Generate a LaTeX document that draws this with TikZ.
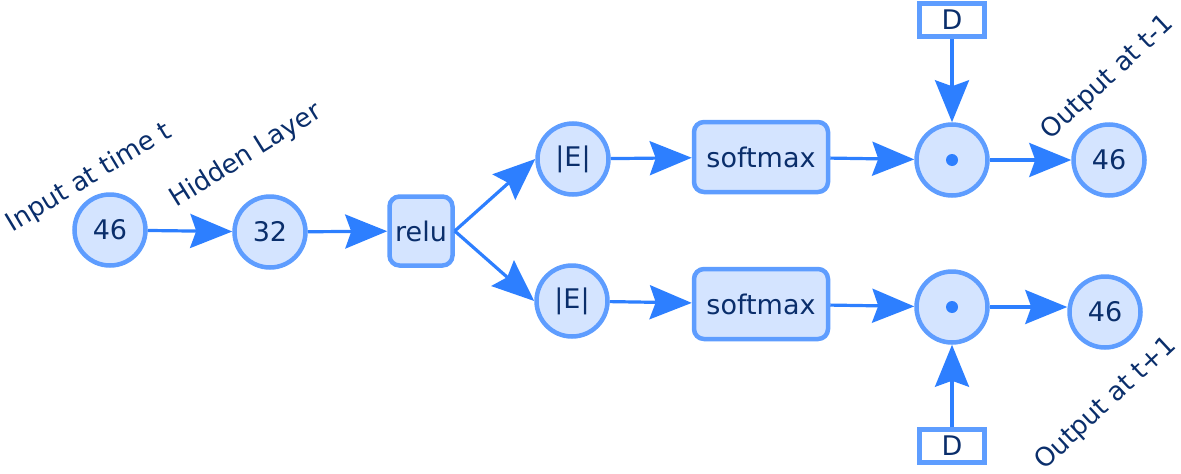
\documentclass[tikz,border=0pt]{standalone}
\usepackage{fontspec}
\setmainfont{DejaVu Sans}
\usetikzlibrary{arrows.meta}
\definecolor{arrowc}{HTML}{2D7FFF}
\definecolor{borderc}{HTML}{5E9DFF}
\definecolor{fillc}{HTML}{D4E4FF}
\definecolor{textc}{HTML}{0A2E6B}
\begin{document}
\begin{tikzpicture}[x=1pt,y=-1pt,
  every node/.style={font=\fontsize{27}{32}\selectfont, text=textc},
  circ/.style={circle, draw=borderc, fill=fillc, line width=4.5pt, minimum size=71pt, inner sep=0pt},
  rbox/.style={rectangle, rounded corners=10pt, draw=borderc, fill=fillc, line width=4.5pt, inner sep=0pt},
  dbox/.style={rectangle, draw=borderc, fill=white, line width=4.5pt, minimum width=65pt, minimum height=33pt, inner sep=0pt},
  lab/.style={inner sep=0pt, font=\fontsize{26}{31}\selectfont},
  conn/.style={draw=arrowc, line width=3.2pt, -{Stealth[length=42pt,width=34pt,inset=6pt]}}
]
\useasboundingbox (0,0) rectangle (1181,474);
\node[circ] (in) at (110,230) {46};
\node[circ] (hid) at (270,232) {32};
\node[rbox, minimum width=63pt, minimum height=69pt] (relu) at (421,231) {relu};
\node[circ] (e1) at (573,159) {|E|};
\node[circ] (e2) at (572,301) {|E|};
\node[rbox, minimum width=134pt, minimum height=70pt] (sm1) at (761,157) {softmax};
\node[rbox, minimum width=134pt, minimum height=70pt] (sm2) at (761,304) {softmax};
\node[circ] (dot1) at (952,160) {};
\node[circ] (dot2) at (952,307) {};
\fill[arrowc] (dot1.center) circle (6pt);
\fill[arrowc] (dot2.center) circle (6pt);
\node[dbox] (d1) at (952,20) {D};
\node[dbox] (d2) at (952,446) {D};
\node[circ] (o1) at (1109,160) {46};
\node[circ] (o2) at (1105,312) {46};
\node[lab, rotate=31] (lin) at (89,178) {Input at time t};
\node[lab, rotate=32] (lhid) at (246,156) {Hidden Layer};
\node[lab, rotate=43] (lo1) at (1108,78) {Output at t-1};
\node[lab, rotate=43] (lo2) at (1106,404) {Output at t+1};
\draw[conn] (in) -- (hid);
\draw[conn] (hid) -- (relu);
\draw[conn] (relu.east) -- (e1.west);
\draw[conn] (relu.east) -- (e2.west);
\draw[conn] (e1) -- (sm1);
\draw[conn] (e2) -- (sm2);
\draw[conn] (sm1) -- (dot1);
\draw[conn] (sm2) -- (dot2);
\draw[conn] (dot1) -- (o1);
\draw[conn] (dot2) -- (o2.west |- dot2);
\draw[conn] (d1) -- (dot1);
\draw[conn] (d2) -- (dot2);
\end{tikzpicture}
\end{document}
